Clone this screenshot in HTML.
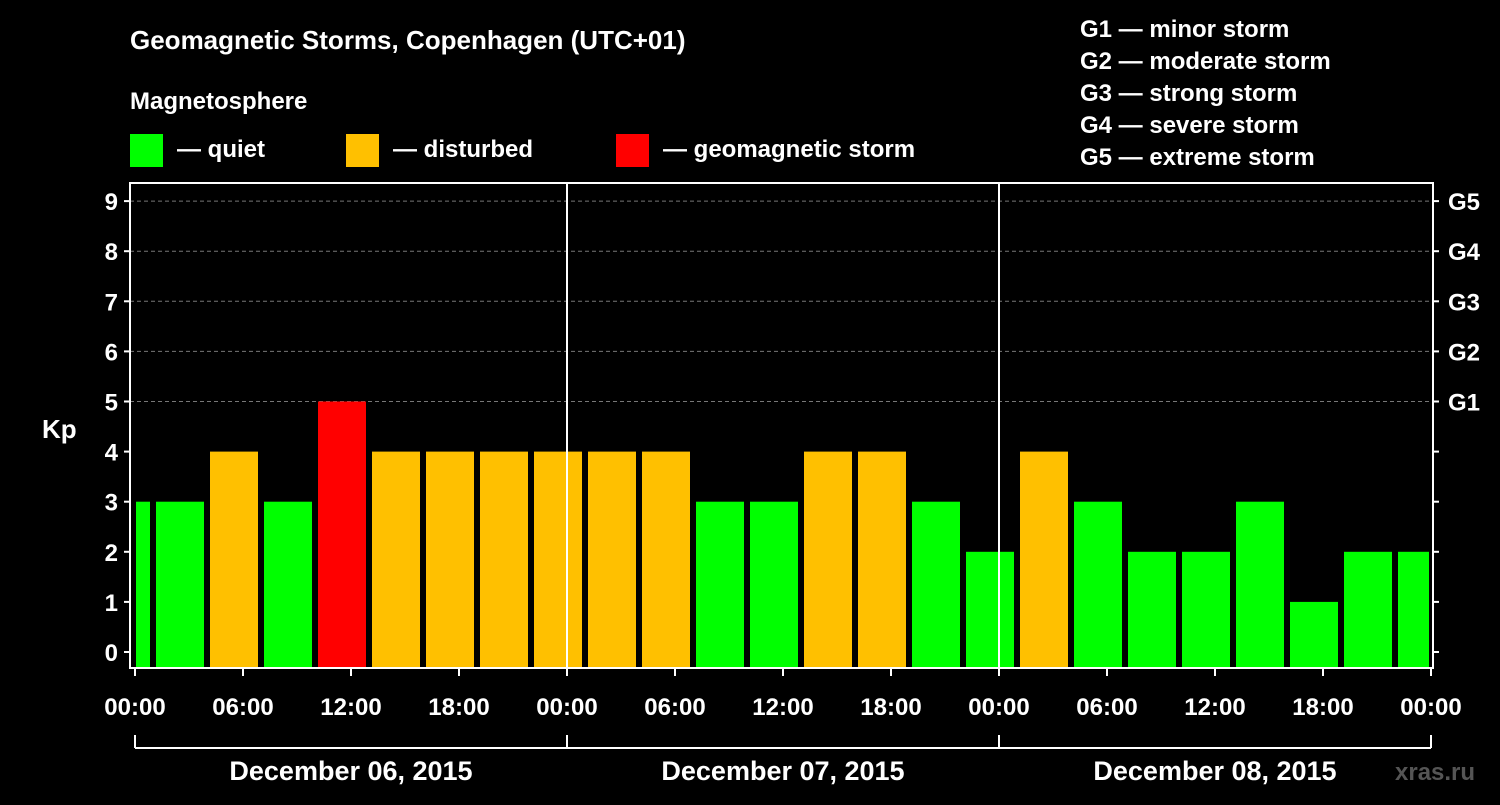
<!DOCTYPE html>
<html><head><meta charset="utf-8"><style>
body{margin:0;background:#000;}
svg text{font-family:"Liberation Sans",Arial,sans-serif;font-weight:bold;fill:#fff;}
</style></head><body>
<svg id="chart" width="1500" height="800" xmlns="http://www.w3.org/2000/svg">
<rect width="1500" height="800" fill="#000"/>
<text x="130" y="49" font-size="26">Geomagnetic Storms, Copenhagen (UTC+01)</text>
<text x="130" y="109" font-size="24">Magnetosphere</text>
<g><rect x="130" y="134" width="33" height="33" fill="#00ff00"/><text x="177" y="157" font-size="24">— quiet</text></g>
<g><rect x="346" y="134" width="33" height="33" fill="#ffc000"/><text x="393" y="157" font-size="24">— disturbed</text></g>
<g><rect x="616" y="134" width="33" height="33" fill="#ff0000"/><text x="663" y="157" font-size="24">— geomagnetic storm</text></g>
<g font-size="24">
<text x="1080" y="37">G1 — minor storm</text><text x="1080" y="69">G2 — moderate storm</text><text x="1080" y="101">G3 — strong storm</text><text x="1080" y="133">G4 — severe storm</text><text x="1080" y="165">G5 — extreme storm</text>
</g>
<text x="42" y="438" font-size="26">Kp</text>
<text x="1395" y="780" font-size="24" style="fill:#555">xras.ru</text>
<g id="grid"></g><g id="bars"></g><g id="axes"></g>
</svg>
<script>
const kpValues=[3,3,4,3,5,4,4,4,4,4,4,3,3,4,4,3,2,4,3,2,2,3,1,2,2];
const startHour=-2;
const yTicks=[0,1,2,3,4,5,6,7,8,9];
const gLabels=["G1","G2","G3","G4","G5"];
const xTickLabels=["00:00","06:00","12:00","18:00","00:00","06:00","12:00","18:00","00:00","06:00","12:00","18:00","00:00"];
const dayLabels=["December 06, 2015","December 07, 2015","December 08, 2015"];
const NS="http://www.w3.org/2000/svg";
const X0=135,PXH=18,Y0=652,PXK=50.1,L=130,R=1433,T=183,B=668,XMAX=1429;
const x=h=>X0+h*PXH, y=k=>Y0-k*PXK;
function mk(p,tag,a){const e=document.createElementNS(NS,tag);for(const k in a)e.setAttribute(k,a[k]);document.getElementById(p).appendChild(e);return e;}
yTicks.forEach(k=>{if(k>=5){const l=mk('grid','line',{x1:L,x2:R,y1:y(k),y2:y(k),stroke:'#777','stroke-dasharray':'4,3'});

}});
kpValues.forEach((v,i)=>{const h=startHour+i*3;let a=Math.max(x(h)+3,X0+1),b=Math.min(x(h+3)-3,XMAX);
const c=v>=5?'#ff0000':v>=4?'#ffc000':'#00ff00';
const r=mk('bars','rect',{x:a,y:y(v),width:b-a,height:B-y(v),fill:c});

});
const f=mk('axes','rect',{x:L,y:T,width:R-L,height:B-T,fill:'none',stroke:'#fff','stroke-width':2});


yTicks.forEach(k=>{mk('axes','line',{x1:L-6,x2:L,y1:y(k),y2:y(k),stroke:'#fff','stroke-width':2});
mk('axes','line',{x1:R,x2:R+6,y1:y(k),y2:y(k),stroke:'#fff','stroke-width':2});
const t=mk('axes','text',{x:L-12,y:y(k)+9,'font-size':24,'text-anchor':'end'});t.textContent=k;

});
gLabels.forEach((g,i)=>{const t=mk('axes','text',{x:1448,y:y(5+i)+9,'font-size':24});t.textContent=g;

});
xTickLabels.forEach((s,i)=>{const xx=x(i*6);mk('axes','line',{x1:xx,x2:xx,y1:B,y2:B+8,stroke:'#fff','stroke-width':2});
const t=mk('axes','text',{x:xx,y:715,'font-size':24,'text-anchor':'middle'});t.textContent=s;

});
[1,2].forEach(d=>{mk('axes','line',{x1:x(d*24),x2:x(d*24),y1:T,y2:B,stroke:'#fff','stroke-width':2});});
mk('axes','line',{x1:x(0),x2:x(72),y1:748,y2:748,stroke:'#fff','stroke-width':2});
[0,1,2,3].forEach(d=>mk('axes','line',{x1:x(d*24),x2:x(d*24),y1:735,y2:748,stroke:'#fff','stroke-width':2}));
dayLabels.forEach((s,i)=>{const t=mk('axes','text',{x:x(i*24+12),y:780,'font-size':27,'text-anchor':'middle'});t.textContent=s;

});
</script>
</body></html>
